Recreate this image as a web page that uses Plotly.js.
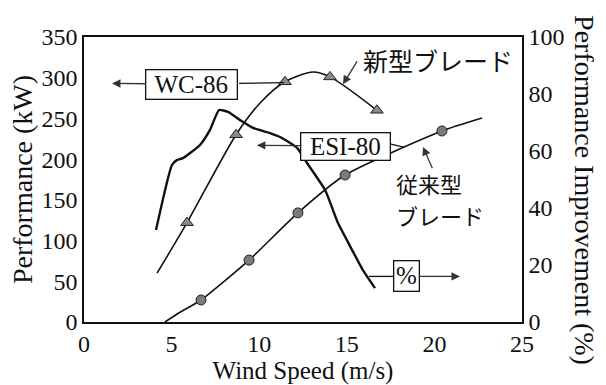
<!DOCTYPE html>
<html>
<head>
<meta charset="utf-8">
<script src="https://cdn.plot.ly/plotly-3.0.1.min.js"></script>
<style>html,body{margin:0;padding:0;background:#fff;}#chart{width:606px;height:385px;}</style>
</head>
<body>
<div id="chart"></div>
<script>
// New blade (WC-86), performance kW
const windWC = [4.17, 5.88, 8.68, 10.05, 11.47, 13.07, 14.04, 16.72];
const powerWC = [60, 122, 230, 269, 295, 307, 301, 260];
const markWC = [0, 1, 1, 0, 1, 0, 1, 1];
// Conventional blade (ESI-80), performance kW
const windESI = [4.62, 5.48, 6.68, 9.42, 12.21, 14.90, 20.43, 22.72];
const powerESI = [0, 12, 27, 76, 134, 180.5, 234.6, 250.5];
const markESI = [0, 0, 1, 1, 1, 1, 1, 0];
// Performance improvement (%)
const windPct = [4.11, 5.02, 5.3, 5.65, 6.62, 7.19, 7.71, 8.22, 8.90, 9.65, 10.62, 11.19, 12.16, 12.73, 13.76, 14.50, 15.30, 15.92, 16.61];
const pct = [32.3, 55.1, 56.8, 57.5, 62.1, 67.4, 74.4, 73.7, 70.9, 68.1, 66.3, 64.9, 61.1, 55.8, 46.3, 34.7, 25.3, 18.2, 11.9];

const xTicks = [0, 5, 10, 15, 20, 25];
const yTicks = [0, 50, 100, 150, 200, 250, 300, 350];
const y2Ticks = [0, 20, 40, 60, 80, 100];

const serif = 'Liberation Serif';
const jp = 'Noto Sans CJK JP';
const ink = '#111';

const traces = [
  {x: windWC, y: powerWC, mode: 'lines+markers', line: {color: ink, width: 1.6, shape: 'spline', smoothing: 0.8},
   marker: {symbol: 'triangle-up', size: 11, color: '#8a8a8a', opacity: markWC, line: {color: '#222', width: 1}}, yaxis: 'y', name: 'WC-86'},
  {x: windESI, y: powerESI, mode: 'lines+markers', line: {color: ink, width: 1.6, shape: 'spline', smoothing: 0.6},
   marker: {symbol: 'circle', size: 10, color: '#7a7a7a', opacity: markESI, line: {color: '#222', width: 1}}, yaxis: 'y', name: 'ESI-80'},
  {x: windPct, y: pct, mode: 'lines', line: {color: ink, width: 2.4, shape: 'spline', smoothing: 0.5}, yaxis: 'y2', name: '%'}
];

const arrowCommon = {showarrow: true, arrowhead: 2, arrowsize: 1.3, arrowwidth: 1.3, arrowcolor: '#333', standoff: 0, startstandoff: 0};
const boxCommon = {bgcolor: '#fff', bordercolor: ink, borderwidth: 1.3, borderpad: 0, font: {family: serif, size: 25, color: ink}};

const annotations = [
  Object.assign({}, arrowCommon, boxCommon, {text: 'WC-86', x: 1.6, y: 293, xref: 'x', yref: 'y', ax: 6.16, ay: 292, axref: 'x', ayref: 'y', width: 90, height: 28}),
  Object.assign({}, arrowCommon, boxCommon, {text: 'ESI-80', x: 9.87, y: 217, xref: 'x', yref: 'y', ax: 14.9, ay: 216, axref: 'x', ayref: 'y', width: 88, height: 26}),
  Object.assign({}, arrowCommon, boxCommon, {text: '%', x: 21.46, y: 16, xref: 'x', yref: 'y2', ax: 18.38, ay: 16, axref: 'x', ayref: 'y2', width: 24, height: 29}),
  {text: '新型ブレード', x: 15.8, y: 322, xref: 'x', yref: 'y', xanchor: 'left', yanchor: 'middle', showarrow: false, font: {family: jp, size: 25, color: ink}},
  Object.assign({}, arrowCommon, {text: '', x: 14.78, y: 292, xref: 'x', yref: 'y', ax: 15.64, ay: 322, axref: 'x', ayref: 'y', arrowhead: 2}),
  {text: '従来型', x: 17.7, y: 171, xref: 'x', yref: 'y', xanchor: 'left', yanchor: 'middle', showarrow: false, font: {family: jp, size: 22, color: ink}},
  {text: 'ブレード', x: 17.7, y: 132, xref: 'x', yref: 'y', xanchor: 'left', yanchor: 'middle', showarrow: false, font: {family: jp, size: 22, color: ink}},
  Object.assign({}, arrowCommon, {text: '', x: 19.35, y: 215, xref: 'x', yref: 'y', ax: 19.92, ay: 187, axref: 'x', ayref: 'y'}),
  // right axis title, reading top to bottom as in the reference
  {text: 'Performance Improvement (%)', xref: 'paper', yref: 'paper', x: 1.1438, y: 0.463, xanchor: 'center', yanchor: 'middle',
   textangle: 90, showarrow: false, font: {family: serif, size: 28, color: ink}}
];

const shapes = [
  {type: 'line', xref: 'x', yref: 'y', x0: 8.85, y0: 293, x1: 11.4, y1: 294, line: {color: ink, width: 1.3}},
  {type: 'line', xref: 'x', yref: 'y', x0: 17.4, y0: 219, x1: 18.3, y1: 214.5, line: {color: ink, width: 1.3}},
  {type: 'line', xref: 'x', yref: 'y2', x0: 16.27, y0: 16, x1: 17.7, y1: 16, line: {color: ink, width: 1.3}}
];

const tickFont = {family: serif, size: 24, color: ink};
const axisCommon = {showline: true, linecolor: ink, linewidth: 1.6, ticks: '', showgrid: false, zeroline: false};

const layout = {
  width: 606, height: 385,
  margin: {l: 84, r: 84, t: 37, b: 63},
  paper_bgcolor: '#fff', plot_bgcolor: '#fff',
  showlegend: false,
  font: {family: serif, color: ink, size: 24},
  xaxis: Object.assign({}, axisCommon, {range: [0, 25], tickmode: 'array', tickvals: xTicks, mirror: true, tickfont: tickFont,
    title: {text: 'Wind Speed (m/s)', font: {family: serif, size: 25, color: ink}, standoff: 0}}),
  yaxis: Object.assign({}, axisCommon, {range: [0, 350], tickmode: 'array', tickvals: yTicks, tickfont: tickFont,
    title: {text: 'Performance (kW)', font: {family: serif, size: 28, color: ink}, standoff: 1}}),
  yaxis2: Object.assign({}, axisCommon, {range: [0, 100], tickmode: 'array', tickvals: y2Ticks, overlaying: 'y', side: 'right', tickfont: tickFont}),
  annotations: annotations,
  shapes: shapes
};

Plotly.newPlot('chart', traces, layout, {staticPlot: true, displayModeBar: false});
</script>
</body>
</html>
